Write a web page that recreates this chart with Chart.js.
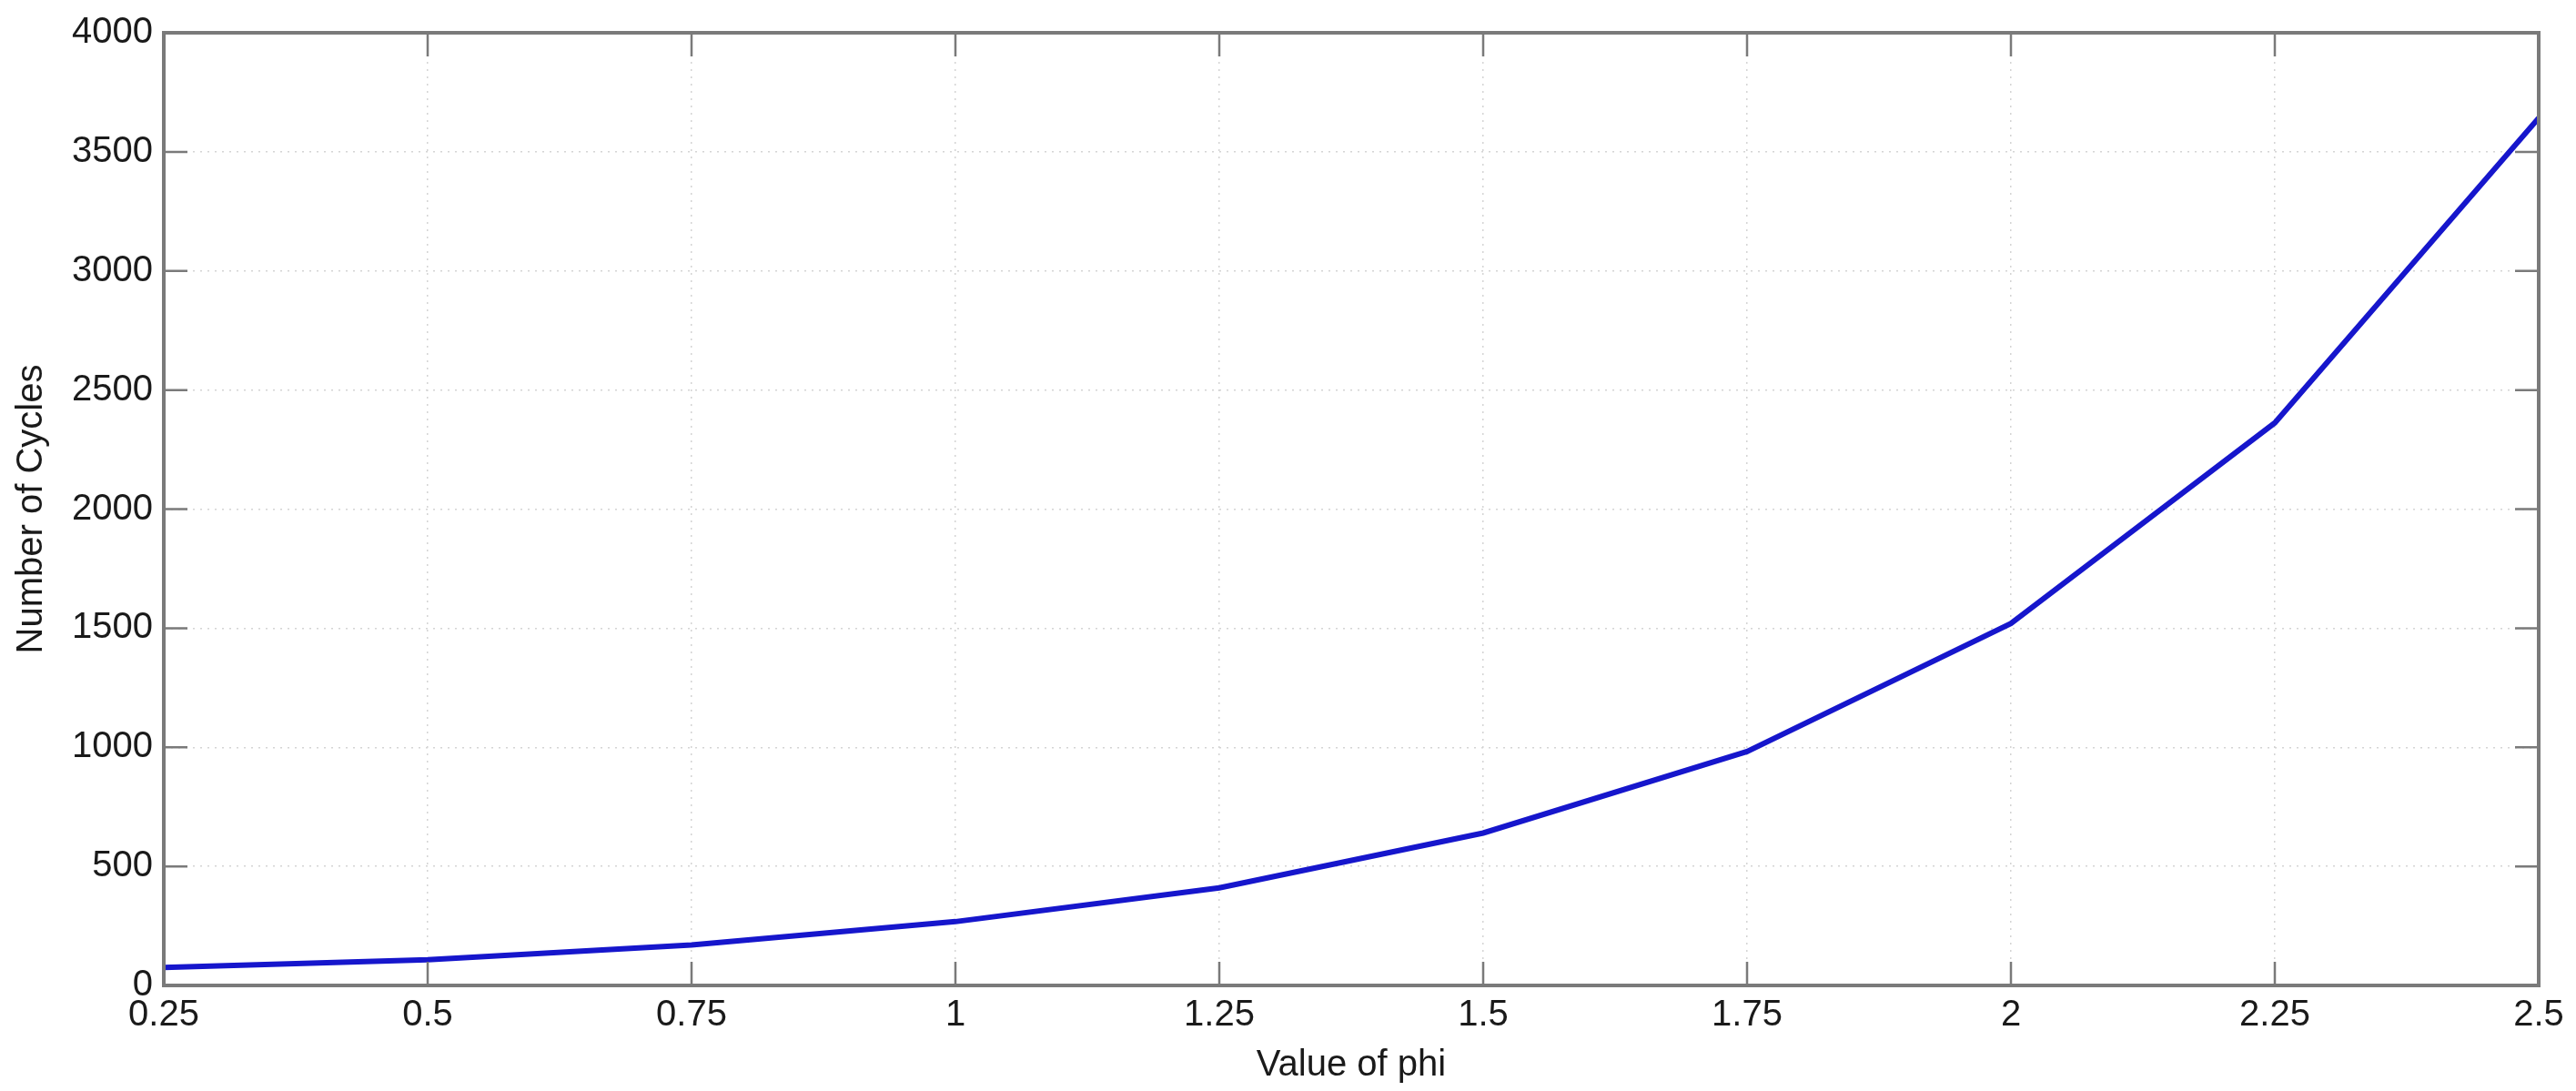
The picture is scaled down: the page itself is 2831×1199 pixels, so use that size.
<!DOCTYPE html>
<html>
<head>
<meta charset="utf-8">
<script src="https://cdn.jsdelivr.net/npm/chart.js@4.4.0/dist/chart.umd.min.js"></script>
<style>
  html, body { margin: 0; padding: 0; background: #fff; }
  #wrap { width: 2831px; height: 1199px; }
</style>
</head>
<body>
<div id="wrap"><canvas id="cyclesChart" width="2831" height="1199"></canvas></div>
<script>
// values
const phiValues = [0.25, 0.5, 0.75, 1, 1.25, 1.5, 1.75, 2, 2.25, 2.5];
const cycleCounts = [75, 108, 170, 268, 410, 640, 982, 1520, 2362, 3642];
const xTickValues = [0.25, 0.5, 0.75, 1, 1.25, 1.5, 1.75, 2, 2.25, 2.5];
const yTickValues = [0, 500, 1000, 1500, 2000, 2500, 3000, 3500, 4000];

const frameColor = '#7a7a7a';
const labelFont = { family: 'Liberation Sans, Arial, sans-serif', size: 40 };

// box round the axes and short ticks pointing inwards (matlab style)
const frameAndTicks = {
    id: 'frameAndTicks',
    afterDraw(chart) {
        const { ctx, chartArea: a, scales } = chart;
        const len = 26;
        ctx.save();
        ctx.strokeStyle = frameColor;
        ctx.lineWidth = 2.5;
        scales.x.ticks.forEach(t => {
            const px = scales.x.getPixelForValue(t.value);
            ctx.beginPath();
            ctx.moveTo(px, a.bottom); ctx.lineTo(px, a.bottom - len);
            ctx.moveTo(px, a.top); ctx.lineTo(px, a.top + len);
            ctx.stroke();
        });
        scales.y.ticks.forEach(t => {
            const py = scales.y.getPixelForValue(t.value);
            ctx.beginPath();
            ctx.moveTo(a.left, py); ctx.lineTo(a.left + len, py);
            ctx.moveTo(a.right, py); ctx.lineTo(a.right - len, py);
            ctx.stroke();
        });
        ctx.lineWidth = 4;
        ctx.strokeRect(a.left, a.top, a.right - a.left, a.bottom - a.top);
        ctx.restore();
    }
};

const ctx = document.getElementById('cyclesChart').getContext('2d');
const cyclesChart = new Chart(ctx, {
    type: 'line',
    data: {
        datasets: [{
            label: 'Number of Cycles',
            data: phiValues.map((p, i) => ({ x: p, y: cycleCounts[i] })),
            borderColor: '#1616cc',
            borderWidth: 6,
            pointRadius: 0,
            tension: 0,
            fill: false
        }]
    },
    options: {
        responsive: false,
        animation: false,
        layout: { padding: { top: 33, right: 41, left: 0, bottom: 0 } },
        plugins: {
            legend: { display: false },
            tooltip: { enabled: false }
        },
        scales: {
            x: {
                type: 'linear',
                min: 0.25,
                max: 2.5,
                afterBuildTicks: scale => {
                    scale.ticks = xTickValues.map(v => ({ value: v }));
                },
                afterFit: scale => { scale.height = 116; },
                ticks: {
                    color: '#1a1a1a',
                    font: labelFont,
                    padding: 9,
                    maxRotation: 0,
                    autoSkip: false,
                    callback: v => String(Number(v.toFixed(2)))
                },
                grid: {
                    color: '#d4d4d4',
                    lineWidth: 1.5,
                    drawTicks: false
                },
                border: { display: false, dash: [2, 6] },
                title: {
                    display: true,
                    text: 'Value of phi',
                    color: '#1a1a1a',
                    font: labelFont,
                    padding: { top: 0, bottom: 4 }
                }
            },
            y: {
                type: 'linear',
                min: 0,
                max: 4000,
                afterBuildTicks: scale => {
                    scale.ticks = yTickValues.map(v => ({ value: v }));
                },
                afterFit: scale => { scale.width = 180; },
                ticks: {
                    color: '#1a1a1a',
                    font: labelFont,
                    padding: 12,
                    callback: v => String(v)
                },
                grid: {
                    color: '#d4d4d4',
                    lineWidth: 1.5,
                    drawTicks: false
                },
                border: { display: false, dash: [2, 6] },
                title: {
                    display: true,
                    text: 'Number of Cycles',
                    color: '#1a1a1a',
                    font: labelFont,
                    padding: { top: 11, bottom: 0 }
                }
            }
        }
    },
    plugins: [frameAndTicks]
});
</script>
</body>
</html>
